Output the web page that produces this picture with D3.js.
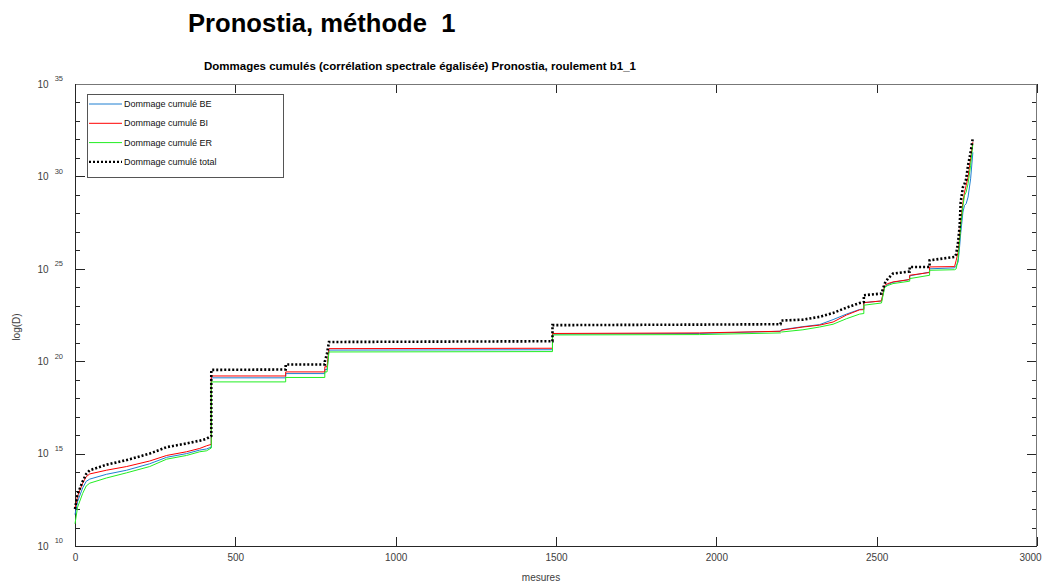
<!DOCTYPE html>
<html>
<head>
<meta charset="utf-8">
<title>Pronostia, méthode 1</title>
<style>
    html, body { margin: 0; padding: 0; background: #fff; }
    svg { display: block; font-family: "Liberation Sans", Arial, sans-serif; }
    .axis text { font-size: 10px; fill: #404040; }
    .axis line { stroke: #262626; shape-rendering: crispEdges; }
    .axis path { display: none; }
    .legend text { font-size: 9px; fill: #111; }
</style>
<script src="https://d3js.org/d3.v7.min.js"></script>
</head>
<body>
<svg id="chart" width="1042" height="585"></svg>
<script>
const mesures = [0, 8, 24, 35, 46, 98, 161, 233, 286, 348, 389, 410, 425, 425, 657, 657, 779, 779, 786, 792,
    1489, 1489, 1947, 2200, 2203, 2270, 2322, 2364, 2406, 2447, 2460, 2460, 2515, 2525, 2535, 2551,
    2603, 2603, 2665, 2665, 2743, 2748, 2754, 2759, 2762, 2769, 2774, 2779, 2785, 2793, 2800];
const dommageBE = [11.7, 12.4, 13.15, 13.5, 13.62, 13.88, 14.1, 14.45, 14.8, 15.0, 15.19, 15.25, 15.35, 19.1, 19.1, 19.33, 19.33, 19.55, 19.55, 20.6,
    20.62, 21.47, 21.5, 21.62, 21.7, 21.87, 21.98, 22.25, 22.55, 22.8, 22.82, 23.17, 23.26, 24.0, 24.15, 24.27,
    24.42, 24.62, 24.82, 25.0, 25.05, 25.15, 25.37, 26.27, 26.9, 28.07, 28.43, 28.52, 28.88, 29.87, 31.3];
const dommageBI = [12.0, 12.7, 13.4, 13.75, 13.9, 14.1, 14.3, 14.6, 14.9, 15.1, 15.28, 15.42, 15.5, 19.2, 19.2, 19.42, 19.42, 19.7, 19.7, 20.68,
    20.7, 21.5, 21.53, 21.62, 21.68, 21.85, 21.95, 22.12, 22.5, 22.78, 22.79, 23.17, 23.26, 24.1, 24.2, 24.29,
    24.42, 24.65, 24.8, 25.1, 25.12, 25.46, 25.9, 26.8, 27.5, 28.6, 29.15, 29.5, 29.96, 30.95, 31.85];
const dommageER = [11.2, 12.1, 12.85, 13.25, 13.4, 13.68, 13.96, 14.3, 14.7, 14.9, 15.1, 15.15, 15.3, 18.88, 18.88, 19.12, 19.12, 19.42, 19.42, 20.5,
    20.52, 21.42, 21.44, 21.53, 21.58, 21.7, 21.85, 22.0, 22.3, 22.55, 22.58, 23.03, 23.15, 24.0, 24.1, 24.2,
    24.33, 24.47, 24.65, 24.92, 24.95, 25.0, 25.55, 26.6, 27.3, 28.4, 28.97, 29.15, 29.6, 30.6, 31.76];
const dommageTotal = [12.0, 12.8, 13.5, 13.9, 14.1, 14.4, 14.65, 15.0, 15.35, 15.55, 15.7, 15.8, 15.95, 19.53, 19.55, 19.82, 19.82, 19.97, 20.43, 21.04,
    21.08, 21.95, 21.98, 22.0, 22.2, 22.25, 22.4, 22.61, 22.9, 23.15, 23.2, 23.57, 23.66, 24.2, 24.47, 24.74,
    24.85, 25.1, 25.1, 25.46, 25.64, 25.8, 26.45, 27.35, 28.6, 29.42, 29.6, 29.85, 30.6, 31.3, 32.1];

const xTicks = [0, 500, 1000, 1500, 2000, 2500, 3000];
const yMajor = [10, 15, 20, 25, 30, 35];
const yMinor = d3.range(10, 36);

const series = [
    { nom: "Dommage cumulé BE", valeurs: dommageBE, couleur: "#1f7fd1", largeur: 1, tirets: null },
    { nom: "Dommage cumulé BI", valeurs: dommageBI, couleur: "#ff0000", largeur: 1, tirets: null },
    { nom: "Dommage cumulé ER", valeurs: dommageER, couleur: "#22ee22", largeur: 1, tirets: null },
    { nom: "Dommage cumulé total", valeurs: dommageTotal, couleur: "#000000", largeur: 2.6, tirets: "2,2" }
];

const svg = d3.select("#chart");
const gauche = 75, droite = 1037, haut = 84, bas = 546;

const x = d3.scaleLinear().domain([0, 3000]).range([gauche, droite]);
const y = d3.scaleLinear().domain([10, 35]).range([bas, haut]);

// titres
svg.append("text")
    .attr("x", 188).attr("y", 32)
    .attr("font-size", "25.6px").attr("font-weight", "bold").attr("fill", "#000")
    .style("white-space", "pre")
    .text("Pronostia, méthode  1");
svg.append("text")
    .attr("x", 420).attr("y", 70)
    .attr("text-anchor", "middle")
    .attr("font-size", "11.5px").attr("font-weight", "bold").attr("fill", "#000")
    .text("Dommages cumulés (corrélation spectrale égalisée) Pronostia, roulement b1_1");

// axes
svg.append("g").attr("class", "x axis")
    .attr("transform", "translate(0," + bas + ")")
    .call(d3.axisBottom(x).tickValues(xTicks).tickSize(-9).tickPadding(8).tickFormat(d3.format("d")))
    .selectAll(".tick text")
    .filter(d => d === 3000)
    .attr("dx", -7);
svg.append("g").attr("class", "x axis")
    .attr("transform", "translate(0," + haut + ")")
    .call(d3.axisTop(x).tickValues(xTicks).tickSize(-9).tickFormat(""));

const yLeft = svg.append("g").attr("class", "y axis")
    .attr("transform", "translate(" + gauche + ",0)");
yLeft.append("g").call(d3.axisLeft(y).tickValues(yMinor).tickSize(-5).tickFormat(""));
yLeft.append("g").call(d3.axisLeft(y).tickValues(yMajor).tickSize(-10).tickPadding(12).tickFormat(() => "10"))
    .selectAll(".tick text")
    .append("tspan")
    .attr("dx", 6).attr("dy", "-0.85em")
    .attr("font-size", "7.5px")
    .text(d => d);

const yRight = svg.append("g").attr("class", "y axis")
    .attr("transform", "translate(" + droite + ",0)");
yRight.append("g").call(d3.axisRight(y).tickValues(yMinor).tickSize(-5).tickFormat(""));
yRight.append("g").call(d3.axisRight(y).tickValues(yMajor).tickSize(-10).tickFormat(""));

// cadre
svg.append("line").attr("x1", gauche).attr("x2", droite).attr("y1", haut + 0.5).attr("y2", haut + 0.5)
    .attr("stroke", "#777");
svg.append("line").attr("x1", droite - 0.5).attr("x2", droite - 0.5).attr("y1", haut).attr("y2", bas)
    .attr("stroke", "#777");
svg.append("line").attr("x1", gauche + 0.5).attr("x2", gauche + 0.5).attr("y1", haut).attr("y2", bas)
    .attr("stroke", "#262626");
svg.append("line").attr("x1", gauche).attr("x2", droite).attr("y1", bas + 0.5).attr("y2", bas + 0.5)
    .attr("stroke", "#262626");

// étiquettes d'axes
svg.append("text")
    .attr("x", 541).attr("y", 581)
    .attr("text-anchor", "middle").attr("font-size", "10px").attr("fill", "#404040")
    .text("mesures");
svg.append("text")
    .attr("transform", "translate(20,327) rotate(-90)")
    .attr("text-anchor", "middle").attr("font-size", "10px").attr("fill", "#404040")
    .text("log(D)");

// courbes
const line = d3.line()
    .x((d, i) => x(mesures[i]))
    .y(d => y(d));

series.forEach(s => {
    svg.append("path")
        .datum(s.valeurs)
        .attr("d", line)
        .attr("fill", "none")
        .attr("stroke", s.couleur)
        .attr("stroke-width", s.largeur)
        .attr("stroke-dasharray", s.tirets);
});

// légende
const legend = svg.append("g").attr("class", "legend");
legend.append("rect")
    .attr("x", 87.5).attr("y", 94.5).attr("width", 196).attr("height", 83)
    .attr("fill", "#fff").attr("stroke", "#555");
series.forEach((s, i) => {
    const ly = 104 + i * 19.3;
    legend.append("line")
        .attr("x1", 89).attr("x2", 122).attr("y1", ly).attr("y2", ly)
        .attr("stroke", s.couleur)
        .attr("stroke-width", s.tirets ? 2.2 : 1)
        .attr("stroke-dasharray", s.tirets);
    legend.append("text")
        .attr("x", 124).attr("y", ly + 3)
        .text(s.nom);
});
</script>
</body>
</html>
